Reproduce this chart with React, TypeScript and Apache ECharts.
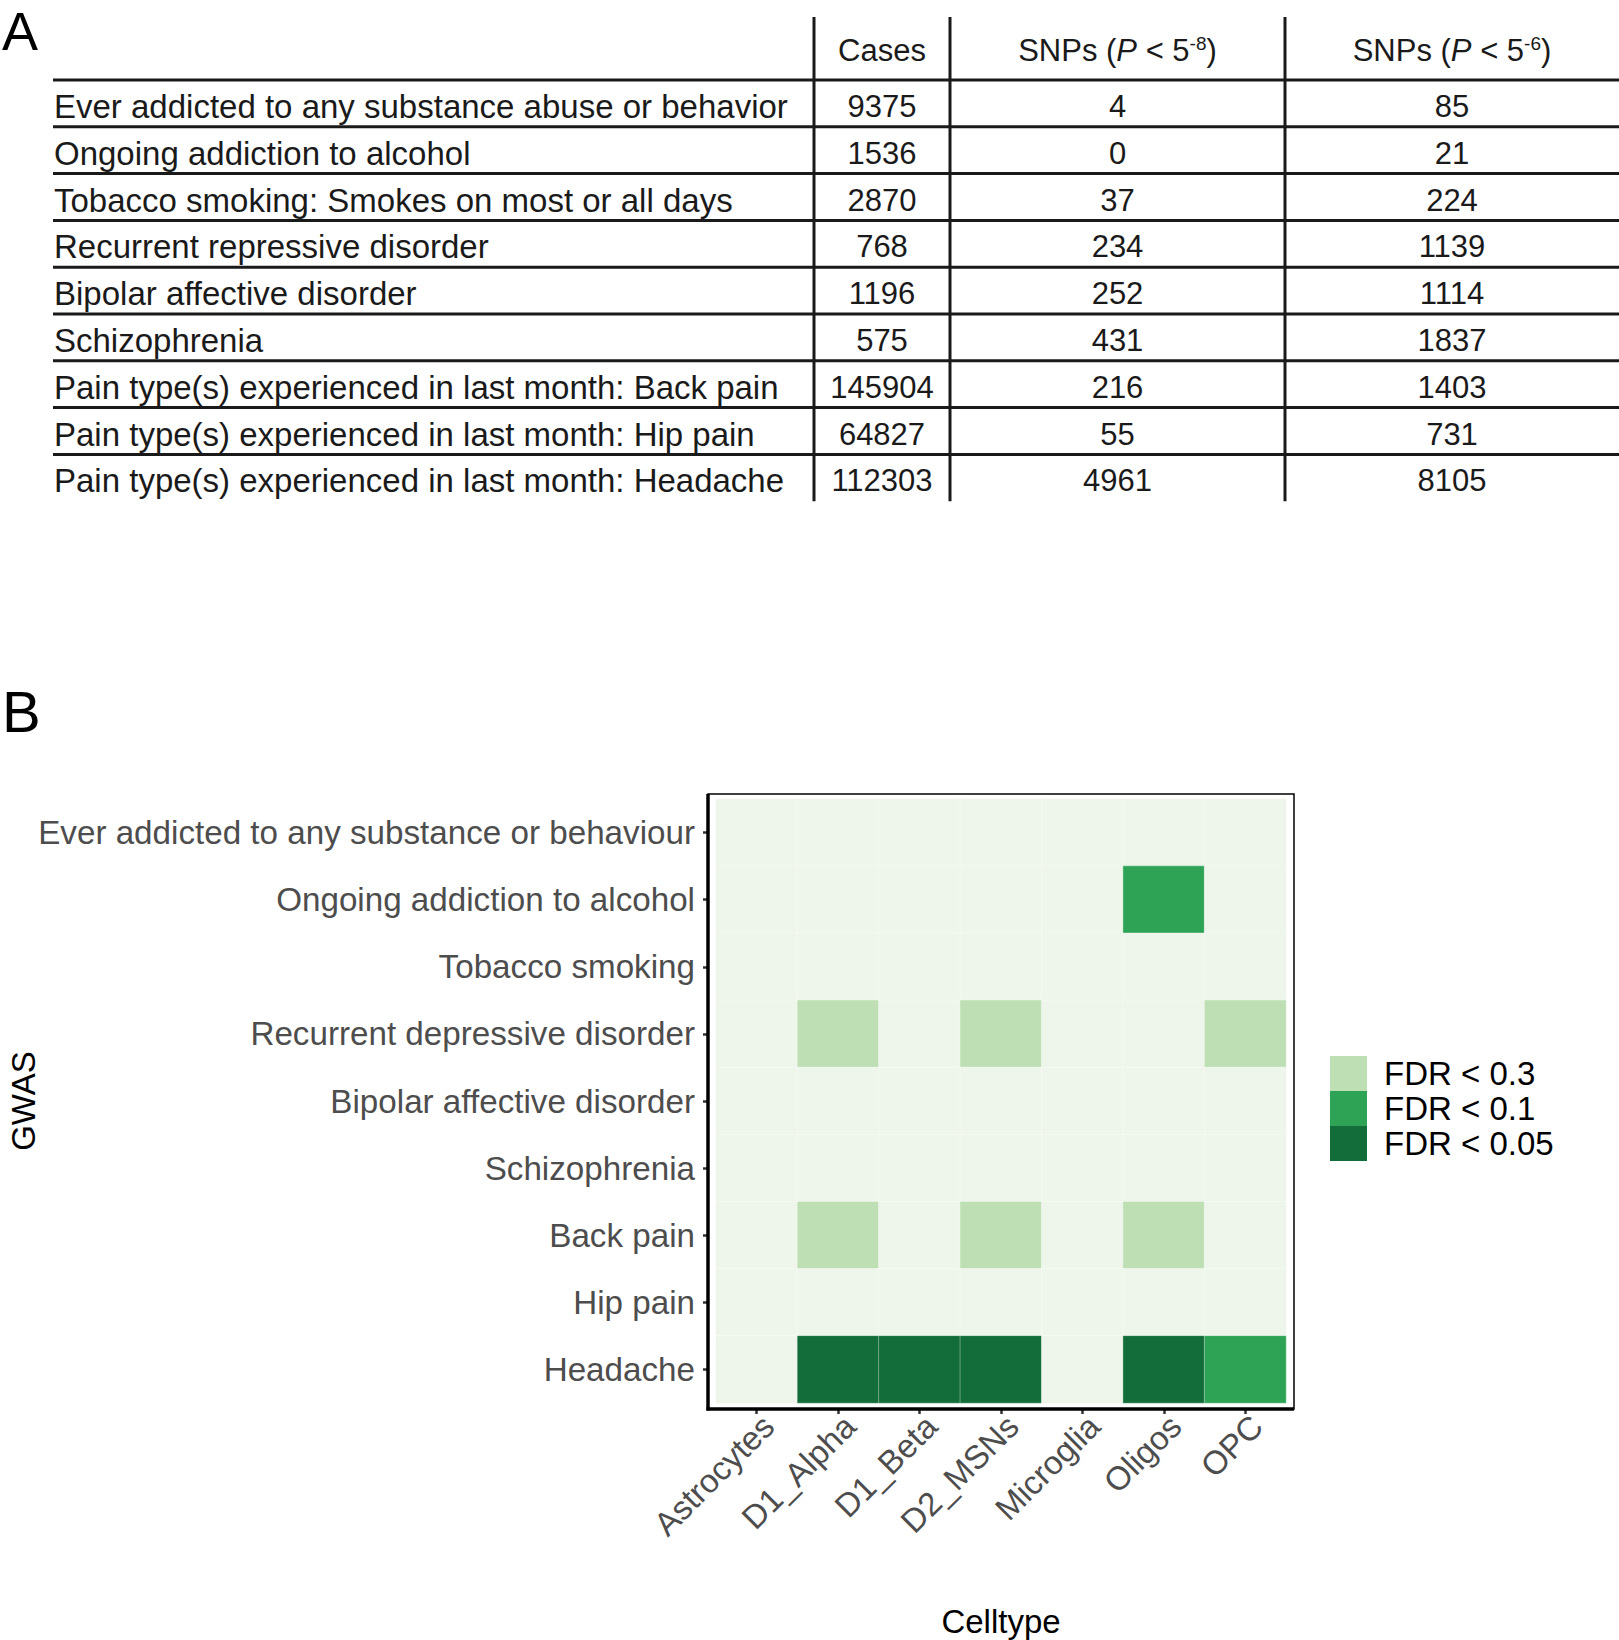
import React, { useEffect, useRef } from "react";
import * as echarts from "echarts";

// ---------- Panel A: table data ----------
const traitLabels = [
  "Ever addicted to any substance abuse or behavior",
  "Ongoing addiction to alcohol",
  "Tobacco smoking: Smokes on most or all days",
  "Recurrent repressive disorder",
  "Bipolar affective disorder",
  "Schizophrenia",
  "Pain type(s) experienced in last month: Back pain",
  "Pain type(s) experienced in last month: Hip pain",
  "Pain type(s) experienced in last month: Headache",
];
const casesCol = ["9375", "1536", "2870", "768", "1196", "575", "145904", "64827", "112303"];
const snpsP8Col = ["4", "0", "37", "234", "252", "431", "216", "55", "4961"];
const snpsP6Col = ["85", "21", "224", "1139", "1114", "1837", "1403", "731", "8105"];
const snpsExponents = ["-8", "-6"];

// ---------- Panel B: heatmap data ----------
const cellTypes = ["Astrocytes", "D1_Alpha", "D1_Beta", "D2_MSNs", "Microglia", "Oligos", "OPC"];
const gwasTraits = [
  "Ever addicted to any substance or behaviour",
  "Ongoing addiction to alcohol",
  "Tobacco smoking",
  "Recurrent depressive disorder",
  "Bipolar affective disorder",
  "Schizophrenia",
  "Back pain",
  "Hip pain",
  "Headache",
];
const fdrLegend = ["FDR < 0.3", "FDR < 0.1", "FDR < 0.05"];
// 0 = not significant, 1 = FDR<0.3, 2 = FDR<0.1, 3 = FDR<0.05
const fdrLevels = [
  [0, 0, 0, 0, 0, 0, 0],
  [0, 0, 0, 0, 0, 2, 0],
  [0, 0, 0, 0, 0, 0, 0],
  [0, 1, 0, 1, 0, 0, 1],
  [0, 0, 0, 0, 0, 0, 0],
  [0, 0, 0, 0, 0, 0, 0],
  [0, 1, 0, 1, 0, 1, 0],
  [0, 0, 0, 0, 0, 0, 0],
  [0, 3, 3, 3, 0, 3, 2],
];

const FONT = "'Liberation Sans', Arial, Helvetica, sans-serif";
const BG_COLOR = "#EEF5EA";
const LEVEL_COLORS = ["#BEDFB4", "#2EA356", "#126D3A"];

export default function App() {
  const ref = useRef<HTMLDivElement>(null);

  useEffect(() => {
    document.body.style.margin = "0";
    const chart = echarts.init(ref.current!, null, { renderer: "svg" });

    // ---- table graphics ----
    const tableLeft = 53;
    const tableRight = 1619;
    const headerLineY = 80;
    const rowH = 46.8;
    const vLines = [814, 950, 1285];
    const vTop = 17;
    const vBottom = headerLineY + rowH * traitLabels.length;
    const colCenters = [(vLines[0] + vLines[1]) / 2, (vLines[1] + vLines[2]) / 2, (vLines[2] + tableRight) / 2];
    const ink = "#1a1a1a";

    const graphics: any[] = [];
    graphics.push({
      type: "text",
      x: 2,
      y: 31,
      style: { text: "A", font: `54px ${FONT}`, fill: "#000", verticalAlign: "middle", align: "left" },
    });
    graphics.push({
      type: "text",
      x: 2,
      y: 711,
      style: { text: "B", font: `58px ${FONT}`, fill: "#000", verticalAlign: "middle", align: "left" },
    });

    // horizontal lines
    for (let i = 0; i < traitLabels.length; i++) {
      const y = headerLineY + rowH * i;
      graphics.push({
        type: "line",
        shape: { x1: tableLeft, y1: y, x2: tableRight, y2: y },
        style: { stroke: ink, lineWidth: 3 },
      });
    }
    // vertical lines
    vLines.forEach((x) => {
      graphics.push({
        type: "line",
        shape: { x1: x, y1: vTop, x2: x, y2: vBottom },
        style: { stroke: ink, lineWidth: 3 },
      });
    });

    // header
    const headerY = 50;
    graphics.push({
      type: "text",
      x: colCenters[0],
      y: headerY,
      style: { text: "Cases", font: `31px ${FONT}`, fill: ink, align: "center", verticalAlign: "middle" },
    });
    snpsExponents.forEach((exp, k) => {
      graphics.push({
        type: "text",
        x: colCenters[k + 1],
        y: headerY,
        style: {
          text: `{a|SNPs (}{i|P}{a| < 5}{s|${exp}}{a|)}`,
          align: "center",
          verticalAlign: "middle",
          rich: {
            a: { font: `31px ${FONT}`, fill: ink, lineHeight: 34, verticalAlign: "middle" },
            i: { font: `italic 31px ${FONT}`, fill: ink, lineHeight: 34, verticalAlign: "middle" },
            s: { font: `19px ${FONT}`, fill: ink, lineHeight: 34, verticalAlign: "top", padding: [1, 0, 0, 0] },
          },
        },
      });
    });

    // rows
    traitLabels.forEach((lab, i) => {
      const cy = headerLineY + rowH * (i + 0.5) + 3;
      graphics.push({
        type: "text",
        x: tableLeft + 1,
        y: cy,
        style: { text: lab, font: `33px ${FONT}`, fill: ink, align: "left", verticalAlign: "middle" },
      });
      [casesCol[i], snpsP8Col[i], snpsP6Col[i]].forEach((v, k) => {
        graphics.push({
          type: "text",
          x: colCenters[k],
          y: cy,
          style: { text: v, font: `31px ${FONT}`, fill: ink, align: "center", verticalAlign: "middle" },
        });
      });
    });

    // ---- heatmap panel frame ----
    const gLeft = 716, gTop = 799, gW = 570, gH = 604;
    const fLeft = 708, fTop = 794, fRight = 1294, fBottom = 1409;
    graphics.push({
      type: "rect",
      shape: { x: fLeft, y: fTop, width: fRight - fLeft, height: fBottom - fTop },
      style: { fill: "none", stroke: "#000", lineWidth: 1.5 },
      z: 10,
    });
    graphics.push({
      type: "line",
      shape: { x1: fLeft, y1: fTop, x2: fLeft, y2: fBottom + 1.5 },
      style: { stroke: "#000", lineWidth: 3.5 },
      z: 10,
    });
    graphics.push({
      type: "line",
      shape: { x1: fLeft - 1.5, y1: fBottom, x2: fRight, y2: fBottom },
      style: { stroke: "#000", lineWidth: 3.5 },
      z: 10,
    });
    // y-axis title
    graphics.push({
      type: "text",
      x: 23,
      y: gTop + gH / 2,
      rotation: Math.PI / 2,
      style: { text: "GWAS", font: `33px ${FONT}`, fill: "#000", align: "center", verticalAlign: "middle" },
    });

    // ---- heatmap data ----
    const heatData: number[][] = [];
    fdrLevels.forEach((row, r) => {
      row.forEach((lvl, c) => {
        heatData.push([c, r, lvl]);
      });
    });

    const axisLabelColor = "#4D4D4D";

    chart.setOption({
      animation: false,
      backgroundColor: "#fff",
      textStyle: { fontFamily: FONT },
      grid: { left: gLeft, top: gTop, width: gW, height: gH, containLabel: false },
      xAxis: {
        type: "category",
        data: cellTypes,
        offset: fBottom - (gTop + gH),
        axisLine: { show: false },
        axisTick: { show: true, alignWithLabel: true, length: 5, lineStyle: { color: "#333", width: 2.5 } },
        axisLabel: {
          rotate: 45,
          interval: 0,
          fontSize: 33,
          fontFamily: FONT,
          color: axisLabelColor,
          align: "right",
          verticalAlign: "top",
          margin: 0,
        },
        splitLine: { show: false },
        splitArea: { show: false },
        name: "Celltype",
        nameLocation: "middle",
        nameGap: 196,
        nameTextStyle: { fontSize: 33, color: "#000", fontFamily: FONT },
      },
      yAxis: {
        type: "category",
        data: gwasTraits,
        inverse: true,
        offset: gLeft - fLeft,
        axisLine: { show: false },
        axisTick: { show: true, alignWithLabel: true, length: 5, lineStyle: { color: "#333", width: 2.5 } },
        axisLabel: { interval: 0, fontSize: 33.2, fontFamily: FONT, color: axisLabelColor, margin: 13 },
        splitLine: { show: false },
        splitArea: { show: false },
      },
      visualMap: {
        type: "piecewise",
        seriesIndex: 0,
        dimension: 2,
        orient: "vertical",
        inverse: true,
        left: 1315,
        top: 1041,
        itemWidth: 37,
        itemHeight: 35,
        itemGap: 0,
        itemSymbol: "rect",
        textGap: 17,
        selectedMode: false,
        hoverLink: false,
        align: "left",
        pieces: fdrLegend.map((label, k) => ({ value: k + 1, label, color: LEVEL_COLORS[k] })),
        outOfRange: { color: BG_COLOR },
        textStyle: { fontSize: 33, color: "#000", fontFamily: FONT },
      },
      graphic: graphics,
      series: [
        {
          type: "heatmap",
          data: heatData,
          itemStyle: { borderColor: "rgba(255,255,255,0.35)", borderWidth: 1 },
          emphasis: { disabled: true },
          label: { show: false },
        },
      ],
    });

    return () => chart.dispose();
  }, []);

  return (
    <div
      ref={ref}
      style={{ position: "absolute", left: 0, top: 0, width: 1619, height: 1640, background: "#fff" }}
    />
  );
}
